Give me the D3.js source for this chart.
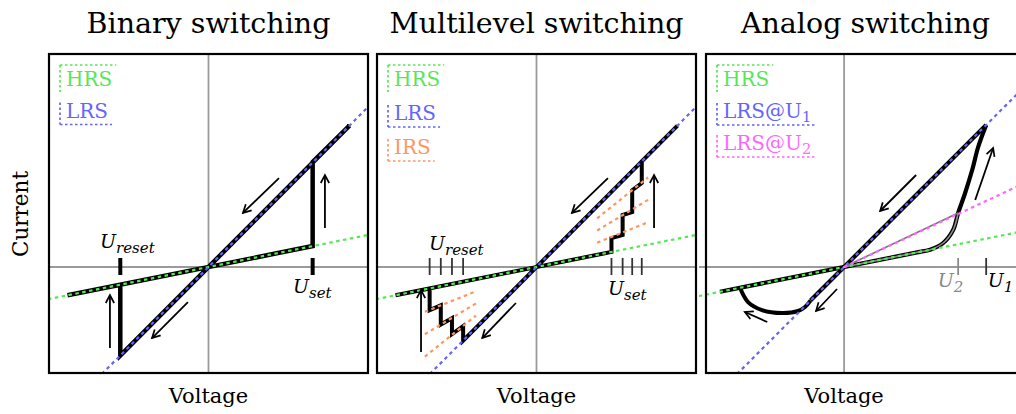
<!DOCTYPE html>
<html><head><meta charset="utf-8">
<script src="https://cdn.jsdelivr.net/npm/d3@7"></script>
<style>body{margin:0;background:#fff}svg{display:block}</style>
</head><body><svg id="c" width="1016" height="414"></svg>
<script>
// ---------------- data ----------------
const titles = ["Binary switching", "Multilevel switching", "Analog switching"];
const xLabel = "Voltage";
const yLabel = "Current";

// legend entries per panel: [text, subscript, colorKey]
const legend1 = [["HRS", "", "hrs"], ["LRS", "", "lrs"]];
const legend2 = [["HRS", "", "hrs"], ["LRS", "", "lrs"], ["IRS", "", "irs"]];
const legend3 = [["HRS", "", "hrs"], ["LRS@U", "1", "lrs"], ["LRS@U", "2", "lrs2"]];

// reference (dotted) lines: [colorKey, [x0,y0], [x1,y1]]
const ref1 = [["hrs", [-1.05, -0.21], [1.05, 0.21]], ["lrs", [-0.7, -0.7], [1.1, 1.1]]];
const ref2 = [["hrs", [-1.05, -0.21], [1.05, 0.21]], ["lrs", [-0.7, -0.7], [1.1, 1.1]],
  ["irs", [0.38, 0.152], [0.70, 0.28]], ["irs", [0.38, 0.228], [0.70, 0.42]], ["irs", [0.38, 0.304], [0.70, 0.56]],
  ["irs", [-0.70, -0.28], [-0.38, -0.152]], ["irs", [-0.70, -0.42], [-0.38, -0.228]], ["irs", [-0.70, -0.56], [-0.38, -0.304]]];
const ref3 = [["hrs", [-0.95, -0.19], [1.15, 0.23]], ["lrs", [-0.7, -0.7], [1.15, 1.15]], ["lrs2", [0, 0], [1.15, 0.535]]];

// I-V paths (black)
const binaryPath = [[-0.884, -0.177], [0.653, 0.131], [0.653, 0.656], [0.884, 0.884],
  [-0.553, -0.553], [-0.553, -0.111], [-0.884, -0.177]];
const multiPath = [[-0.884, -0.177], [0.47, 0.094], [0.47, 0.18], [0.54, 0.2], [0.54, 0.325],
  [0.6, 0.344], [0.6, 0.48], [0.66, 0.525], [0.66, 0.66], [0.884, 0.884],
  [-0.46, -0.46], [-0.46, -0.37], [-0.53, -0.42], [-0.53, -0.32], [-0.6, -0.36], [-0.6, -0.24],
  [-0.67, -0.27], [-0.67, -0.134], [-0.884, -0.177]];
const analogHRS = [[-0.775, -0.155], [0.48, 0.096]];
const analogRise = [[0.48, 0.096], [0.5375, 0.108], [0.619, 0.15], [0.681, 0.231], [0.7125, 0.3375],
  [0.756, 0.4625], [0.8, 0.606], [0.8375, 0.75], [0.8875, 0.8875]];
const analogFall = [[0.8875, 0.8875], [-0.21, -0.21]];
const analogBowl = [[-0.21, -0.21], [-0.244, -0.25], [-0.2875, -0.275], [-0.3875, -0.2875],
  [-0.5125, -0.269], [-0.6, -0.219], [-0.65, -0.13]];
const analogU2Rise = [[0, 0], [0.48, 0.096], [0.5375, 0.108], [0.619, 0.15], [0.681, 0.231], [0.7125, 0.3375]];
const analogU2Back = [[0.7125, 0.3375], [0, 0]];

// arrows: [[x0,y0],[x1,y1]] (tail -> head)
const arrows1 = [[[0.442, 0.556], [0.216, 0.338]], [[-0.129, -0.219], [-0.354, -0.444]],
  [[0.73, 0.244], [0.73, 0.575]], [[-0.618, -0.506], [-0.618, -0.175]]];
const arrows2 = [[[0.448, 0.556], [0.222, 0.338]], [[-0.129, -0.225], [-0.34, -0.444]],
  [[0.737, 0.244], [0.737, 0.575]], [[-0.724, -0.531], [-0.724, -0.144]]];
const arrows3 = [[[0.45, 0.575], [0.225, 0.35]], [[-0.044, -0.1375], [-0.175, -0.275]],
  [[-0.48, -0.344], [-0.62, -0.281]], [[0.819, 0.419], [0.931, 0.744]]];

// threshold ticks on voltage axis: [x, kind]
const ticks1 = [[-0.553, "thick"], [0.653, "thick"]];
const ticks2 = [[-0.67, "thin"], [-0.6, "thin"], [-0.53, "thin"], [-0.46, "thin"],
  [0.47, "thin"], [0.54, "thin"], [0.6, "thin"], [0.66, "thin"]];
const ticks3 = [[0.7125, "gray"], [0.8875, "thin"]];

// threshold labels: [main, subscript, x, y, colour]
const labels1 = [["U", "reset", -0.68, 0.119, "#000"], ["U", "set", 0.53, -0.1625, "#000"]];
const labels2 = [["U", "reset", -0.674, 0.106, "#000"], ["U", "set", 0.448, -0.175, "#000"]];
const labels3 = [["U", "2", 0.585, -0.125, "#888"], ["U", "1", 0.897, -0.125, "#000"]];

// ---------------- drawing ----------------
const colors = { hrs: "#55e855", lrs: "#6464ff", irs: "#ff9662", lrs2: "#ff66ff" };
const svg = d3.select("#c");
const serif = "'DejaVu Serif', serif";
const boxTop = 54, boxW = 319, boxH = 319;
const boxLefts = [49, 377, 706];
const xDomains = [[-1, 1], [-1, 1], [-0.8625, 1.13]];
const yDomain = [-0.6625, 1.33125];

const defs = svg.append("defs");
defs.append("marker").attr("id", "ah").attr("viewBox", "-10 -6 12 12")
  .attr("markerWidth", 12).attr("markerHeight", 12).attr("markerUnits", "userSpaceOnUse")
  .attr("orient", "auto").attr("refX", 0).attr("refY", 0)
  .append("path").attr("d", "M-8,-4.2L0,0L-8,4.2").attr("fill", "none")
  .attr("stroke", "#000").attr("stroke-width", 1.7).attr("stroke-linejoin", "miter");

// y label
svg.append("text").attr("transform", "translate(28,214) rotate(-90)")
  .attr("text-anchor", "middle").attr("font-family", serif).attr("font-size", 21.5)
  .attr("fill", "#000").text(yLabel);

const panels = [
  { legend: legend1, ref: ref1, arrows: arrows1, ticks: ticks1, labels: labels1, spacing: 31.5 },
  { legend: legend2, ref: ref2, arrows: arrows2, ticks: ticks2, labels: labels2, spacing: 34 },
  { legend: legend3, ref: ref3, arrows: arrows3, ticks: ticks3, labels: labels3, spacing: 32 }
];

panels.forEach((p, i) => {
  const left = boxLefts[i];
  const x = d3.scaleLinear().domain(xDomains[i]).range([left, left + boxW]);
  const y = d3.scaleLinear().domain(yDomain).range([boxTop + boxH, boxTop]);
  const line = d3.line().x(d => x(d[0])).y(d => y(d[1]));
  const curve = d3.line().x(d => x(d[0])).y(d => y(d[1])).curve(d3.curveCatmullRom.alpha(0.5));

  const clipLeft = i === 2 ? left - 7 : left;
  defs.append("clipPath").attr("id", "clip" + i).append("rect")
    .attr("x", clipLeft).attr("y", boxTop).attr("width", left + boxW - clipLeft).attr("height", boxH);

  // title and x label
  svg.append("text").attr("x", left + boxW / 2).attr("y", 33).attr("text-anchor", "middle")
    .attr("font-family", serif).attr("font-size", 28.5).attr("fill", "#000").text(titles[i]);
  svg.append("text").attr("x", x(0)).attr("y", 403).attr("text-anchor", "middle")
    .attr("font-family", serif).attr("font-size", 21).attr("fill", "#000").text(xLabel);

  const g = svg.append("g").attr("clip-path", "url(#clip" + i + ")");

  // axes
  g.append("line").attr("x1", clipLeft).attr("x2", left + boxW).attr("y1", y(0)).attr("y2", y(0))
    .attr("stroke", "#9a9a9a").attr("stroke-width", 1.8);
  g.append("line").attr("x1", x(0)).attr("x2", x(0)).attr("y1", boxTop).attr("y2", boxTop + boxH)
    .attr("stroke", "#9a9a9a").attr("stroke-width", 1.8);

  // ticks
  p.ticks.forEach(t => {
    const sw = t[1] === "thick" ? 4 : 1.8;
    const col = t[1] === "gray" ? "#8a8a8a" : (t[1] === "thick" ? "#000" : "#333");
    g.append("line").attr("x1", x(t[0])).attr("x2", x(t[0]))
      .attr("y1", y(0) - 9).attr("y2", y(0) + 8).attr("stroke", col).attr("stroke-width", sw);
  });

  // black I-V paths
  const blk = (d, gen, w) => g.append("path").attr("d", gen(d)).attr("fill", "none")
    .attr("stroke", "#000").attr("stroke-width", w).attr("stroke-linejoin", "miter")
    .attr("stroke-linecap", "butt");
  if (i === 0) blk(binaryPath, line, 4.5);
  if (i === 1) blk(multiPath, line, 4);
  if (i === 2) {
    blk(analogHRS, line, 4.2);
    blk(analogRise, curve, 4.2);
    blk(analogFall, line, 4.2);
    blk(analogBowl, curve, 4);
    g.append("path").attr("d", curve(analogU2Rise)).attr("fill", "none")
      .attr("stroke", "#8c8c8c").attr("stroke-width", 1.6);
    g.append("path").attr("d", line(analogU2Back)).attr("fill", "none")
      .attr("stroke", "#777").attr("stroke-width", 1.6);
  }

  // dotted reference lines
  p.ref.forEach(r => {
    g.append("path").attr("d", line([r[1], r[2]])).attr("fill", "none")
      .attr("stroke", colors[r[0]]).attr("stroke-width", 2.2).attr("stroke-dasharray", "3.5,3.5");
  });

  // arrows
  p.arrows.forEach(a => {
    svg.append("path").attr("d", line(a)).attr("fill", "none").attr("stroke", "#000")
      .attr("stroke-width", 1.8).attr("marker-end", "url(#ah)");
  });

  // threshold labels
  p.labels.forEach(l => {
    const t = svg.append("text").attr("x", x(l[2])).attr("y", y(l[3]))
      .attr("font-family", serif).attr("font-style", "italic").attr("font-size", 19).attr("fill", l[4]);
    t.append("tspan").text(l[0]);
    t.append("tspan").attr("dy", 5).attr("font-size", 15).text(l[1]);
  });

  // legend
  const lx = left + 11;
  p.legend.forEach((e, k) => {
    const base = 86 + k * p.spacing;
    const col = colors[e[2]];
    const t = svg.append("text").attr("x", lx + 6).attr("y", base).attr("font-family", serif)
      .attr("font-size", 20).attr("fill", col);
    t.append("tspan").text(e[0]);
    if (e[1]) t.append("tspan").attr("dy", 4).attr("font-size", 14.5).text(e[1]);
    const w = t.node().getBBox().width + 10;
    const dl = (x1, y1, x2, y2) => svg.append("line").attr("x1", x1).attr("y1", y1).attr("x2", x2).attr("y2", y2)
      .attr("stroke", col).attr("stroke-width", 1.7).attr("stroke-dasharray", "2.5,2.5");
    if (k === 0) {
      dl(lx, base - 21, lx + w, base - 21);
      dl(lx, base - 21, lx, base + 6);
    } else {
      dl(lx, base - 15, lx, base + 7);
      dl(lx, base + 7, lx + w, base + 7);
    }
  });

  // frame
  svg.append("rect").attr("x", left).attr("y", boxTop).attr("width", boxW).attr("height", boxH)
    .attr("fill", "none").attr("stroke", "#000").attr("stroke-width", 2.2);
});
</script>
</body></html>
